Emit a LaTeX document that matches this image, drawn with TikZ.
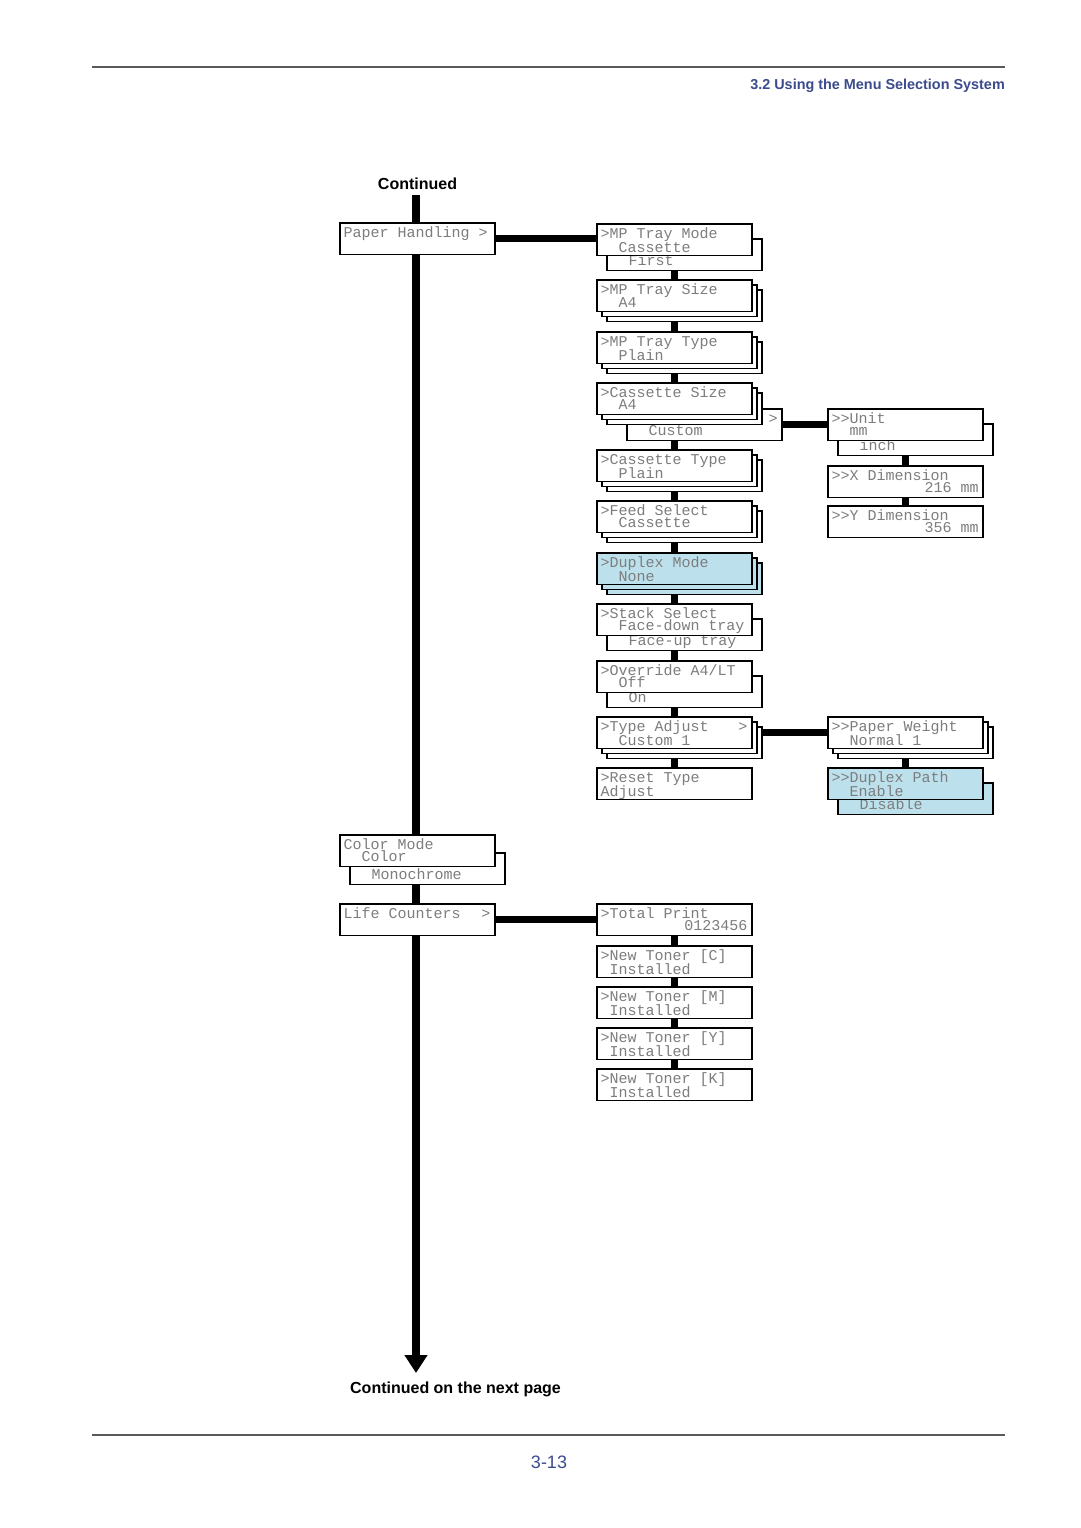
\documentclass[tikz,border=0pt]{standalone}
\usepackage{fontspec}
\usetikzlibrary{arrows.meta,backgrounds}
\newfontfamily\hdrfont{Liberation Sans}
\newfontfamily\boxfont{Liberation Mono}
\definecolor{hdrblue}{RGB}{60,75,140}
\definecolor{boxgray}{RGB}{125,125,125}
\definecolor{lcdblue}{RGB}{189,225,236}
\newdimen\chw \chw=9pt
\newcommand\ind[1]{\hspace*{#1\chw}}
\newcommand\spc{\hspace*{\chw}}
\tikzset{
 frontbox/.style={draw=black, fill=white, line width=1.8pt, minimum width=155pt, minimum height=31.5pt, inner sep=0pt, outer sep=0pt, anchor=north west},
 copybox/.style={frontbox, line width=1.1pt},
 optbox/.style={frontbox},
 lcd/.style={fill=lcdblue},
 boxtxt/.style={anchor=north west, inner sep=0pt, outer sep=0pt, text width=147pt, align=left, font=\boxfont\fontsize{15}{12}\selectfont, text=boxgray},
 conn/.style={line width=7pt, draw=black},
 trunk/.style={line width=7.5pt, draw=black, -{Triangle[width=22pt,length=18pt]}},
 pagerule/.style={draw=black!65, line width=1.2pt},
 heading/.style={font=\hdrfont\bfseries\fontsize{16}{19}\selectfont, inner sep=0pt},
}
\newcommand\fbx[5][]{\node[frontbox,#1] (#2) at (#3,#4) {};
 \node[boxtxt] (#2-t) at ([shift={(3.5,3)}]#2.north west) {\rule{0pt}{11pt}#5};}
\newcommand\obx[5][]{\node[optbox,#1] (#2) at (#3,#4) {};
 \node[boxtxt] (#2-t) at ([shift={(3.5,3)}]#2.north west) {\rule{0pt}{11pt}#5};}
\newcommand\stk[4][]{\node[copybox,#1] (#2-s2) at ({#3+10},{#4+10}) {};
 \node[copybox,#1] (#2-s1) at ({#3+5},{#4+5}) {};}
\begin{document}
\begin{tikzpicture}[x=1pt,y=-1pt]
\useasboundingbox (0,0) rectangle (1080,1528);
% page furniture
\coordinate (hl1) at (92,67); \coordinate (hl2) at (1005,67);
\coordinate (fl1) at (92,1435); \coordinate (fl2) at (1005,1435);
\draw[pagerule] (hl1) -- (hl2);
\draw[pagerule] (fl1) -- (fl2);
\node[anchor=base east, inner sep=0pt, text=hdrblue, font=\hdrfont\bfseries\fontsize{14.4}{17}\selectfont] (hdr) at (1005,89) {3.2 Using the Menu Selection System};
\node[anchor=base, inner sep=0pt, text=hdrblue, font=\hdrfont\fontsize{18}{21}\selectfont] (pageno) at (549,1468.5) {3-13};
\node[heading, anchor=base] (cont) at (417.5,189) {Continued};
\node[heading, anchor=base] (contnext) at (455.5,1393) {Continued on the next page};
\coordinate (trunktop) at (416,195);
\coordinate (trunkend) at (416,1373);

% left column
\fbx{ph}{340}{223}{Paper\spc Handling\spc>}
\obx{cm-o}{350}{853}{\\\ind{2}Monochrome}
\fbx{cm}{340}{835}{Color\spc Mode\\\ind{2}Color}
\fbx{lc}{340}{904}{Life\spc Counters\hspace*{\fill}>}

% middle column (paper handling)
\obx{mptm-o}{607}{239}{\\\ind{2}First}
\fbx{mptm}{597}{224}{>MP\spc Tray\spc Mode\\\ind{2}Cassette}
\stk{mpts}{597}{280}
\fbx{mpts}{597}{280}{>MP\spc Tray\spc Size\\\ind{2}A4}
\stk{mptt}{597}{332}
\fbx{mptt}{597}{332}{>MP\spc Tray\spc Type\\\ind{2}Plain}
\obx{cs-o}{627}{409}{\hspace*{\fill}>\\\ind{2}Custom}
\stk{cs}{597}{383}
\fbx{cs}{597}{383}{>Cassette\spc Size\\\ind{2}A4}
\stk{ct}{597}{450}
\fbx{ct}{597}{450}{>Cassette\spc Type\\\ind{2}Plain}
\stk{fs}{597}{501}
\fbx{fs}{597}{501}{>Feed\spc Select\\\ind{2}Cassette}
\stk[lcd]{dm}{597}{553}
\fbx[lcd]{dm}{597}{553}{>Duplex\spc Mode\\\ind{2}None}
\obx{ss-o}{607}{619}{\\\ind{2}Face-up\spc tray}
\fbx{ss}{597}{604}{>Stack\spc Select\\\ind{2}Face-down\spc tray}
\obx{oa-o}{607}{676}{\\\ind{2}On}
\fbx{oa}{597}{661}{>Override\spc A4/LT\\\ind{2}Off}
\stk{ta}{597}{717}
\fbx{ta}{597}{717}{>Type\spc Adjust\hspace*{\fill}>\\\ind{2}Custom\spc 1}
\fbx{rta}{597}{768}{>Reset\spc Type\\Adjust}

% right column
\obx{unit-o}{838}{424}{\\\ind{2}inch}
\fbx{unit}{828}{409}{>>Unit\\\ind{2}mm}
\fbx{xd}{828}{466}{>>X\spc Dimension\\\hspace*{\fill}216\spc mm}
\fbx{yd}{828}{506}{>>Y\spc Dimension\\\hspace*{\fill}356\spc mm}
\stk{pw}{828}{717}
\fbx{pw}{828}{717}{>>Paper\spc Weight\\\ind{2}Normal\spc 1}
\obx[lcd]{dp-o}{838}{783}{\\\ind{2}Disable}
\fbx[lcd]{dp}{828}{768}{>>Duplex\spc Path\\\ind{2}Enable}

% life counters column
\fbx{tp}{597}{904}{>Total\spc Print\\\hspace*{\fill}0123456}
\fbx{tc}{597}{946}{>New\spc Toner\spc [C]\\\ind{1}Installed}
\fbx{tm}{597}{987}{>New\spc Toner\spc [M]\\\ind{1}Installed}
\fbx{ty}{597}{1028}{>New\spc Toner\spc [Y]\\\ind{1}Installed}
\fbx{tk}{597}{1069}{>New\spc Toner\spc [K]\\\ind{1}Installed}

\begin{scope}[on background layer]
 \fill[white] (0,0) rectangle (1080,1528);
 \draw[trunk] (trunktop) -- (trunkend);
 \draw[conn] (ph.center) -- (ph.center -| mptm.center);
 \draw[conn] (mptm.center) -- (rta.center);
 \draw[conn] (cs-o.center) -- (cs-o.center -| unit.center);
 \draw[conn] (unit.center) -- (yd.center);
 \draw[conn] (ta.center) -- (ta.center -| pw.center);
 \draw[conn] (pw.center) -- (dp.center);
 \draw[conn] (lc.center) -- (lc.center -| tp.center);
 \draw[conn] (tp.center) -- (tk.center);
\end{scope}
\end{tikzpicture}
\end{document}
